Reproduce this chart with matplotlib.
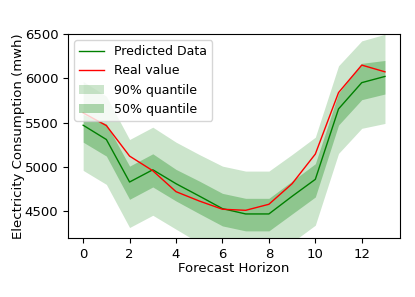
import matplotlib
matplotlib.use("Agg")
import matplotlib.pyplot as plt
import numpy as np

horizon = list(range(14))
predicted = [5470, 5309, 4830, 4968, 4811, 4672, 4530, 4470, 4470, 4669, 4860, 5654, 5950, 6020]
real = [5609, 5466, 5122, 4957, 4721, 4616, 4523, 4511, 4579, 4811, 5145, 5838, 6148, 6072]
q90_low = [4961, 4803, 4317, 4455, 4298, 4143, 4100, 4080, 4080, 4150, 4343, 5152, 5435, 5490]
q90_high = [5964, 5796, 5309, 5448, 5279, 5140, 5009, 4953, 4953, 5140, 5335, 6140, 6421, 6495]
q50_low = [5279, 5122, 4635, 4774, 4616, 4474, 4335, 4279, 4279, 4470, 4661, 5472, 5758, 5822]
q50_high = [5590, 5485, 5009, 5148, 4972, 4841, 4702, 4646, 4646, 4840, 5036, 5830, 6168, 6200]

plt.rcParams['font.size'] = 9.5
fig = plt.figure(figsize=(4.15, 2.97), dpi=100)
ax = fig.add_axes([0.164, 0.199, 0.800, 0.687])

ax.plot(horizon, predicted, color='green', lw=1, label='Predicted Data')
ax.plot(horizon, real, color='red', lw=1, label='Real value')
ax.fill_between(horizon, q90_low, q90_high, color='green', alpha=0.2, lw=0, label='90% quantile')
ax.fill_between(horizon, q50_low, q50_high, color='green', alpha=0.3, lw=0, label='50% quantile')

ax.set_ylim(4200, 6500)
ax.set_xticks([0, 2, 4, 6, 8, 10, 12])
ax.set_yticks([4500, 5000, 5500, 6000, 6500])
ax.set_xlabel('Forecast Horizon', labelpad=1)
ax.set_ylabel('Electricity Consumption (mwh)', labelpad=0)
ax.legend(loc='upper left', fontsize=9)

fig.savefig('out.png', dpi=100)
